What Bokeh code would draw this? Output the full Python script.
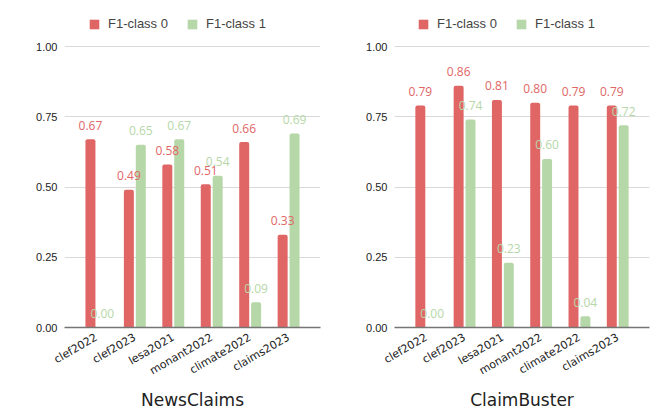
import math
from bokeh.plotting import figure
from bokeh.models import (FactorRange, Range1d, FixedTicker, NumeralTickFormatter,
                          ColumnDataSource, Legend, LegendItem)
from bokeh.transform import dodge
from bokeh.layouts import row
from bokeh.embed import file_html
from bokeh.resources import INLINE
from bokeh.core.properties import value

datasets = ["clef2022", "clef2023", "lesa2021", "monant2022", "climate2022", "claims2023"]
news_f1_class0 = [0.67, 0.49, 0.58, 0.51, 0.66, 0.33]
news_f1_class1 = [0.00, 0.65, 0.67, 0.54, 0.09, 0.69]
cb_f1_class0 = [0.79, 0.86, 0.81, 0.80, 0.79, 0.79]
cb_f1_class1 = [0.00, 0.74, 0.23, 0.60, 0.04, 0.72]
y_ticks = [0.0, 0.25, 0.5, 0.75, 1.0]
panel_titles = ["NewsClaims", "ClaimBuster"]
series_names = ["F1-class 0", "F1-class 1"]

RED = "#e06666"
GREEN = "#b6d7a8"

FIG_H = 412
BOTTOM = 85
FRAME_H = FIG_H - BOTTOM          # frame reaches the top of the figure
AXIS_H = 281                      # pixels between 0.00 and 1.00


def make(title, c0, c1, width, left, right, leg_x):
    src = ColumnDataSource(dict(
        x=datasets, c0=c0, c1=c1,
        l0=[f"{v:.2f}" for v in c0], l1=[f"{v:.2f}" for v in c1]))
    p = figure(x_range=FactorRange(factors=datasets, range_padding=0.33,
                                   range_padding_units="absolute"),
               y_range=Range1d(0, FRAME_H / AXIS_H), width=width, height=FIG_H,
               min_border_left=left, min_border_right=right,
               min_border_top=0, min_border_bottom=BOTTOM,
               output_backend="svg", toolbar_location=None)
    p.outline_line_color = None
    r0 = p.vbar(x=dodge("x", -0.155, range=p.x_range), top="c0", width=0.26,
                source=src, fill_color=RED, line_color=None, border_radius=(2, 2, 0, 0))
    r1 = p.vbar(x=dodge("x", 0.155, range=p.x_range), top="c1", width=0.26,
                source=src, fill_color=GREEN, line_color=None, border_radius=(2, 2, 0, 0))
    for off, col, lab, color in ((-0.155, "c0", "l0", RED), (0.155, "c1", "l1", GREEN)):
        p.text(x=dodge("x", off, range=p.x_range), y=col, text=lab, source=src,
               text_align="center", text_baseline="alphabetic", y_offset=-14,
               text_color=color, text_font=value("Open Sans"), text_font_size="12px")

    xa = p.xaxis[0]
    xa.axis_line_color = "#757575"
    xa.axis_line_width = 1.5
    xa.major_tick_line_color = None
    xa.minor_tick_line_color = None
    xa.major_tick_out = 0
    xa.major_label_orientation = math.pi / 6
    xa.major_label_standoff = 9
    xa.major_label_text_font = "DejaVu Sans"
    xa.major_label_text_font_size = "11px"
    xa.major_label_text_color = "#222222"
    xa.axis_label = title
    xa.axis_label_text_font = "DejaVu Sans"
    xa.axis_label_text_font_size = "17px"
    xa.axis_label_text_font_style = "normal"
    xa.axis_label_text_color = "#222222"
    xa.axis_label_standoff = 4

    ya = p.yaxis[0]
    ya.ticker = FixedTicker(ticks=y_ticks)
    ya.formatter = NumeralTickFormatter(format="0.00")
    ya.axis_line_color = None
    ya.major_tick_line_color = None
    ya.minor_tick_line_color = None
    ya.major_tick_out = 0
    ya.major_label_standoff = 7
    ya.major_label_text_font = "Liberation Sans"
    ya.major_label_text_font_size = "11px"
    ya.major_label_text_color = "#222222"

    p.xgrid.grid_line_color = None
    p.ygrid.grid_line_color = "#d9d9d9"
    p.ygrid.ticker = FixedTicker(ticks=y_ticks)

    legend = Legend(items=[LegendItem(label=series_names[0], renderers=[r0]),
                           LegendItem(label=series_names[1], renderers=[r1])],
                    orientation="horizontal", location=(leg_x, FRAME_H - 31),
                    padding=0, margin=0, spacing=18, label_standoff=8,
                    glyph_width=12, glyph_height=12, label_height=12,
                    border_line_color=None, background_fill_alpha=0,
                    label_text_font="Liberation Sans", label_text_font_size="13px",
                    label_text_color="#444444")
    p.add_layout(legend)
    return p


p1 = make(panel_titles[0], news_f1_class0, news_f1_class1, 335, 64, 15, 24)
p2 = make(panel_titles[1], cb_f1_class0, cb_f1_class1, 330, 59, 16, 23)
layout = row(p1, p2, spacing=0)

open("out.html", "w").write(file_html(layout, INLINE))
